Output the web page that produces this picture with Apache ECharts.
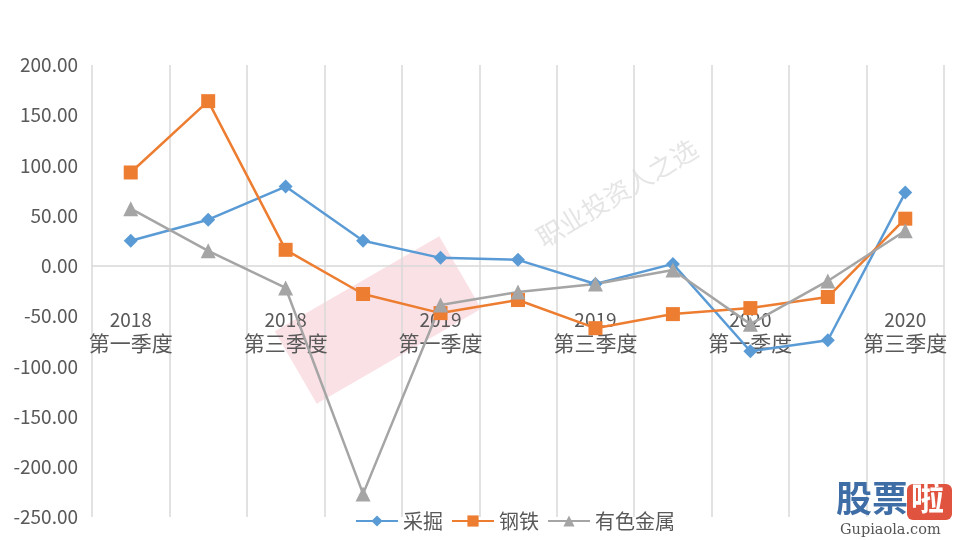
<!DOCTYPE html>
<html>
<head>
<meta charset="utf-8">
<script src="https://cdn.jsdelivr.net/npm/echarts@6/dist/echarts.min.js"></script>
<style>html,body{margin:0;padding:0;background:#fff}#c{width:956px;height:540px}</style>
</head>
<body>
<div id="c"></div>
<script>
var categories = ['2018\n第一季度','2018\n第二季度','2018\n第三季度','2018\n第四季度','2019\n第一季度','2019\n第二季度','2019\n第三季度','2019\n第四季度','2020\n第一季度','2020\n第二季度','2020\n第三季度'];
var caijue = [25, 46, 79, 25, 8, 6, -18, 2, -85, -74, 73];
var gangtie = [93, 164, 16, -28, -47, -34, -62, -48, -42, -31, 47];
var youse = [57, 15, -22, -227, -39, -26, -18, -4, -58, -15, 35];
var seriesNames = ['采掘', '钢铁', '有色金属'];

var FONT = '"Noto Sans CJK SC", "Noto Sans", sans-serif';
var chart = echarts.init(document.getElementById('c'));
function mk(name, data, color, symbol, size, extra) {
  var s = {
    name: name, type: 'line', data: data,
    symbol: symbol, symbolSize: size,
    itemStyle: { color: color },
    lineStyle: { color: color, width: 2.5 },
    z: 3
  };
  if (extra) for (var k in extra) s[k] = extra[k];
  return s;
}
chart.setOption({
  animation: false,
  backgroundColor: '#fff',
  grid: { left: 92, right: 12, top: 65, bottom: 23, containLabel: false, outerBoundsMode: 'none' },
  legend: {
    data: seriesNames,
    left: 350, bottom: 4,
    itemWidth: 42, itemHeight: 14, itemGap: 8,
    textStyle: { fontFamily: FONT, fontSize: 20, color: '#595959' }
  },
  xAxis: {
    type: 'category',
    data: categories,
    boundaryGap: true,
    axisLine: { show: false, onZero: false },
    axisTick: { show: false },
    splitLine: { show: true, interval: 0, lineStyle: { color: '#d9d9d9', width: 1.5 } },
    axisLabel: {
      interval: 1, margin: -208,
      formatter: function (v) { var p = v.split('\n'); return '{y|' + p[0] + '}\n{q|' + p[1] + '}'; },
      rich: {
        y: { fontFamily: FONT, fontSize: 19, color: '#595959', lineHeight: 22 },
        q: { fontFamily: FONT, fontSize: 21, color: '#595959', lineHeight: 24 }
      }
    }
  },
  yAxis: {
    type: 'value', min: -250, max: 200, interval: 50,
    axisLine: { show: false }, axisTick: { show: false },
    splitLine: { show: false },
    axisLabel: {
      margin: 14, fontFamily: FONT, fontSize: 19, color: '#595959',
      formatter: function (v) { return v.toFixed(2); }
    }
  },
  graphic: [
    { type: 'rect', shape: { x: -95, y: -42, width: 190, height: 84 }, x: 378, y: 320, rotation: Math.PI / 6,
      style: { fill: 'rgba(240,170,180,0.35)' }, z: 0, silent: true },
    { type: 'text', x: 617, y: 193, rotation: Math.PI * 31 / 180,
      style: { text: '职业投资人之选', fontFamily: FONT, fontSize: 26, fill: 'rgba(180,180,180,0.35)', align: 'center', verticalAlign: 'middle' }, z: 0 },
    { type: 'text', x: 836, y: 480, style: { text: '股票', fontFamily: FONT, fontSize: 36, fontWeight: 'bold', fill: '#3f6ea6' }, z: 10 },
    { type: 'rect', shape: { x: 907, y: 484, width: 45, height: 36, r: 6 }, style: { fill: '#e0533f' }, z: 10 },
    { type: 'text', x: 911, y: 481, style: { text: '啦', fontFamily: FONT, fontSize: 33, fontWeight: 'bold', fill: '#fff' }, z: 11 },
    { type: 'text', x: 840, y: 523, style: { text: 'Gupiaola.com', fontFamily: '"DejaVu Serif", serif', fontSize: 14.5, fill: '#555' }, z: 10 }
  ],
  series: [
    mk('采掘', caijue, '#5b9bd5', 'diamond', 14, {
      markLine: { silent: true, symbol: 'none', label: { show: false }, z: 1,
        lineStyle: { color: '#d9d9d9', width: 1.5, type: 'solid' }, data: [{ yAxis: 0 }] }
    }),
    mk('钢铁', gangtie, '#ed7d31', 'rect', 14),
    mk('有色金属', youse, '#a5a5a5', 'triangle', 15)
  ]
});
</script>
</body>
</html>
